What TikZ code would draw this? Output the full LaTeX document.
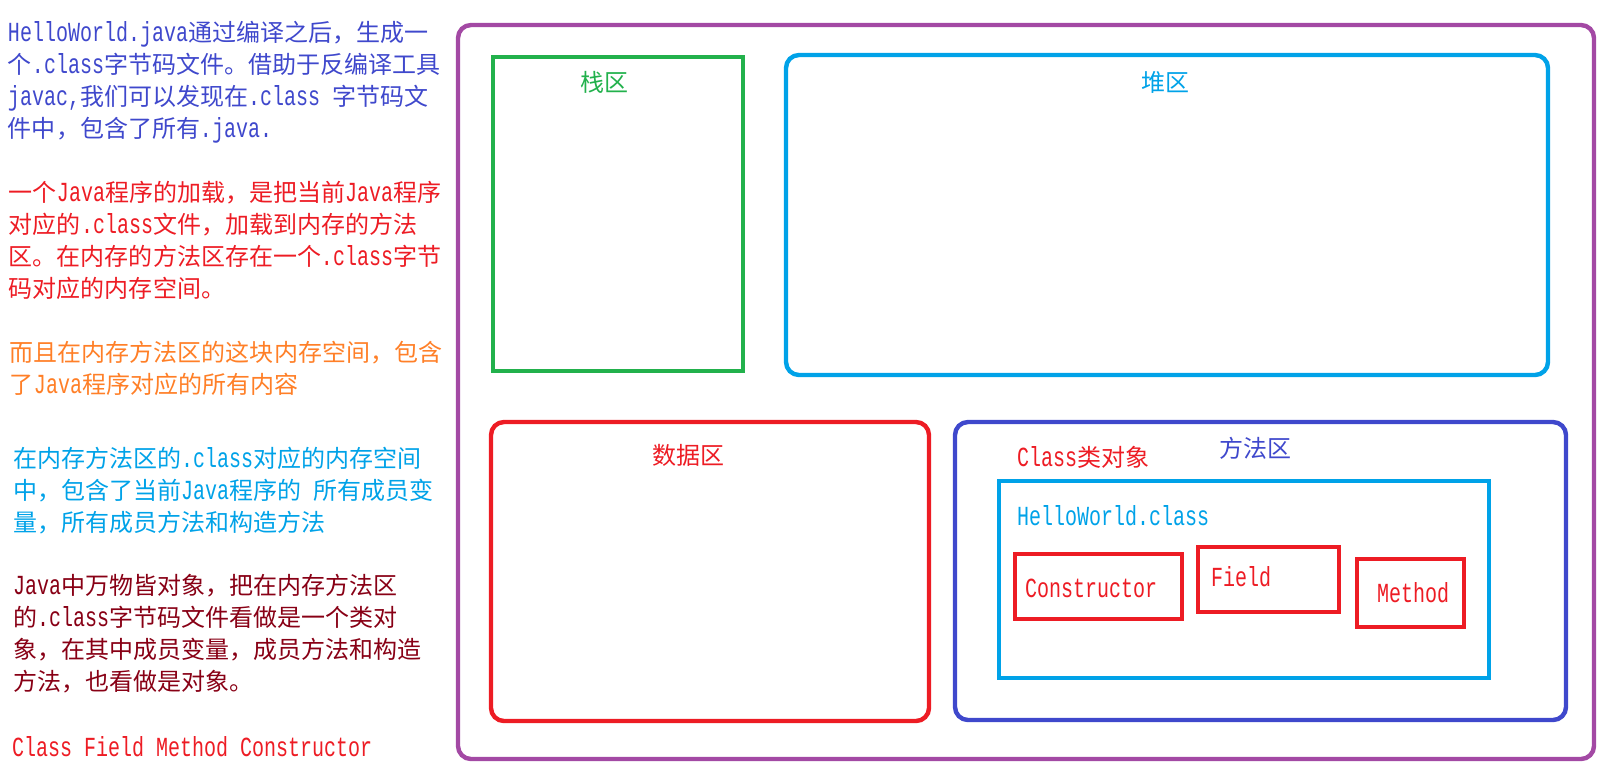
\documentclass[tikz,border=0pt]{standalone}
\usepackage{fontspec}
\setmainfont[Scale=1.15, FakeStretch=0.725]{Liberation Mono}
\newfontfamily\cjkfont{Noto Sans CJK SC}

% Chinese characters are set in the CJK font
\XeTeXinterchartokenstate=1
\newXeTeXintercharclass\cjkclass
\newcount\cjkcount
\newcommand\cjkrange[2]{%
  \cjkcount=#1\relax
  \loop
    \XeTeXcharclass\cjkcount=\cjkclass
  \ifnum\cjkcount<#2\relax
    \advance\cjkcount by 1
  \repeat}
\cjkrange{"3000}{"303F}
\cjkrange{"4E00}{"9FFF}
\cjkrange{"FF00}{"FFEF}
\XeTeXinterchartoks 0 \cjkclass = {\begingroup\cjkfont}
\XeTeXinterchartoks 4095 \cjkclass = {\begingroup\cjkfont}
\XeTeXinterchartoks \cjkclass 0 = {\endgroup}
\XeTeXinterchartoks \cjkclass 4095 = {\endgroup}

\definecolor{jvmpurple}{HTML}{A349A4}
\definecolor{stackgreen}{HTML}{22B14C}
\definecolor{heapblue}{HTML}{00A2E8}
\definecolor{datared}{HTML}{ED1C24}
\definecolor{methodindigo}{HTML}{3F48CC}
\definecolor{noteorange}{HTML}{FF7F27}
\definecolor{notedarkred}{HTML}{880015}

\begin{document}
\begin{tikzpicture}[
    x=0.5pt, y=-0.5pt,
    every node/.style={inner sep=0pt, outer sep=0pt},
    area/.style={rectangle, draw, line width=2.2pt, rounded corners=6.5pt},
    block/.style={rectangle, draw, line width=2.2pt},
    member/.style={block, draw=datared},
    title/.style={font=\fontsize{12pt}{16pt}\selectfont},
    note/.style={title, anchor=base west, align=left}
]
\useasboundingbox (0,0) rectangle (1606,773);

% Notes on the left (placed at the baseline of their last line)
\node[note, text=methodindigo] (note_compile) at (8,137) {
    HelloWorld.java通过编译之后，生成一\\
    个.class字节码文件。借助于反编译工具\\
    javac,我们可以发现在.class 字节码文\\
    件中，包含了所有.java.
};
\node[note, text=datared] (note_load) at (9,297) {
    一个Java程序的加载，是把当前Java程序\\
    对应的.class文件，加载到内存的方法\\
    区。在内存的方法区存在一个.class字节\\
    码对应的内存空间。
};
\node[note, text=noteorange] (note_space) at (10,393) {
    而且在内存方法区的这块内存空间，包含\\
    了Java程序对应的所有内容
};
\node[note, text=heapblue] (note_members) at (13,531) {
    在内存方法区的.class对应的内存空间\\
    中，包含了当前Java程序的 所有成员变\\
    量，所有成员方法和构造方法
};
\node[note, text=notedarkred] (note_objects) at (13,690) {
    Java中万物皆对象，把在内存方法区\\
    的.class字节码文件看做是一个类对\\
    象，在其中成员变量，成员方法和构造\\
    方法，也看做是对象。
};
\node[note, text=datared] (note_types) at (12,756) {Class Field Method Constructor};

% Memory
\node[area, draw=jvmpurple, minimum width=568pt, minimum height=367pt] (memory) at (1026,392) {};

% Stack and heap
\node[block, draw=stackgreen, minimum width=125pt, minimum height=157pt] (stack) at (618,214) {};
\node[title, text=stackgreen] (stack_label) at (604,82) {栈区};
\node[area, draw=heapblue, minimum width=381pt, minimum height=160pt] (heap) at (1167,215) {};
\node[title, text=heapblue] (heap_label) at (1165,82) {堆区};

% Data area
\node[area, draw=datared, minimum width=219pt, minimum height=149.5pt] (data) at (710,571.5) {};
\node[title, text=datared] (data_label) at (688,455) {数据区};

% Method area
\node[area, draw=methodindigo, minimum width=305.5pt, minimum height=149pt] (method_area) at (1260.5,571) {};
\node[title, text=methodindigo] (method_label) at (1255,448) {方法区};
\node[title, text=datared, anchor=west] (class_label) at (1017,457) {Class类对象};
\node[block, draw=heapblue, line width=2pt, minimum width=245pt, minimum height=98.5pt] (class_file) at (1244,579.5) {};
\node[title, text=heapblue, anchor=west] (class_name) at (1017,516) {HelloWorld.class};

% Members of the class
\node[member, minimum width=83.5pt, minimum height=32.5pt] (constructor) at (1098.5,586.5) {};
\node[title, text=datared, anchor=west] (constructor_label) at (1025,588) {Constructor};
\node[member, minimum width=70.5pt, minimum height=32.5pt] (field) at (1268.5,579.5) {};
\node[title, text=datared, anchor=west] (field_label) at (1211,577) {Field};
\node[member, minimum width=53.5pt, minimum height=34pt] (method) at (1410.5,593) {};
\node[title, text=datared, anchor=west] (method_label2) at (1377,593) {Method};

\end{tikzpicture}
\end{document}
